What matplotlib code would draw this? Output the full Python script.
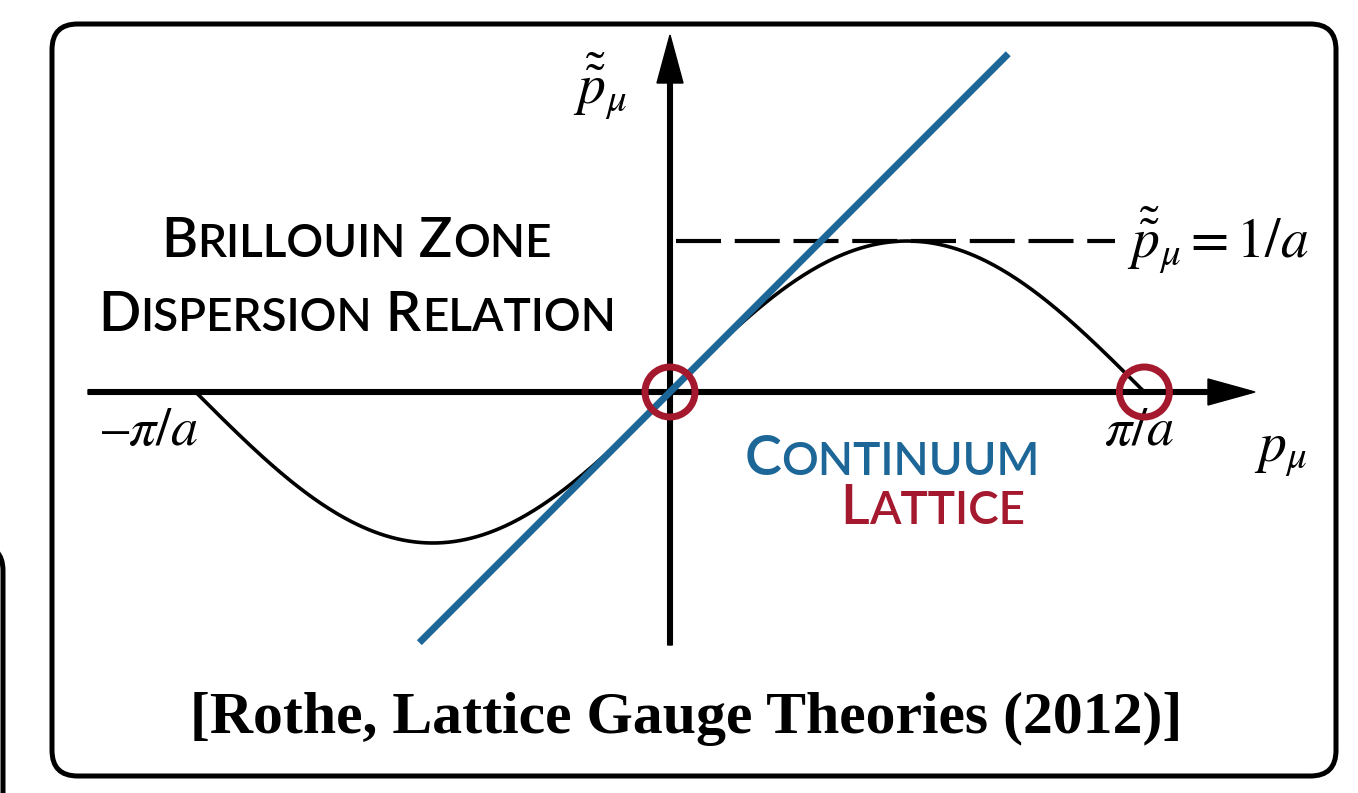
import numpy as np
import matplotlib
matplotlib.use("Agg")
from matplotlib import pyplot as plt
from matplotlib.patches import FancyBboxPatch, Circle
from matplotlib.offsetbox import TextArea, HPacker, AnnotationBbox

plt.rcParams['mathtext.fontset'] = 'stix'

# lattice spacing and the first Brillouin zone
a = 1.0
zone_edge = np.pi / a
p = np.linspace(-zone_edge, zone_edge, 500)
lattice = np.sin(p * a) / a          # lattice momentum
continuum_p = np.array([-1.66, 2.24])
continuum = continuum_p                # continuum momentum, p~ = p
doublers = [0.0, zone_edge]            # zeros of the lattice dispersion
tilde_max = 1.0 / a

BLUE = '#1c6798'
RED = '#a5192e'

# pixel layout -> data units (origin of the axes, px per unit)
W, H = 1358, 793
ox, oy, s = 670, 392, 151.0

fig = plt.figure(figsize=(W / 100, H / 100), dpi=100)
ax = fig.add_axes([0, 0, 1, 1])
ax.set_xlim(-ox / s, (W - ox) / s)
ax.set_ylim((oy - H) / s, oy / s)
ax.axis('off')


def px(x, y):
    return ((x - ox) / s, (oy - y) / s)


# frames
x0, y0 = px(52, 776)
x1, y1 = px(1336, 24)
ax.add_patch(FancyBboxPatch((x0 + 0.17, y0 + 0.17), x1 - x0 - 0.34, y1 - y0 - 0.34,
                            boxstyle='round,pad=0.17', fill=False, lw=3.6, ec='k'))
x0, y0 = px(-300, 820)
x1, y1 = px(3, 545)
ax.add_patch(FancyBboxPatch((x0 + 0.17, y0 + 0.17), x1 - x0 - 0.34, y1 - y0 - 0.34,
                            boxstyle='round,pad=0.17', fill=False, lw=3.6, ec='k',
                            clip_on=True))

# axes with arrows
lw_ax = 4.7 / s
hx0, _ = px(88, 0)
hx1, _ = px(1255, 0)
ax.arrow(hx0, 0, hx1 - hx0, 0, width=lw_ax, head_width=26 / s, head_length=47 / s,
         length_includes_head=True, color='k', zorder=2)
_, vy0 = px(0, 645)
_, vy1 = px(0, 35)
ax.arrow(0, vy0, 0, vy1 - vy0, width=lw_ax, head_width=26 / s, head_length=48 / s,
         length_includes_head=True, color='k', zorder=2)

# dashed maximum of the lattice momentum
dx0, _ = px(676, 0)
dx1, _ = px(1115, 0)
ax.plot([dx0, dx1], [tilde_max, tilde_max], color='k', lw=3,
        dashes=(10.8, 3.3), zorder=2)

# dispersion curves
ax.plot(p, lattice, color='k', lw=2.6, zorder=3)
ax.plot(continuum_p, continuum, color=BLUE, lw=5, solid_capstyle='butt', zorder=4)

for d in doublers:
    ax.add_patch(Circle((d, 0), 25 / s, fill=False, ec=RED, lw=5, zorder=5))

# math labels
ax.text(*px(600, 86), r'$\tilde{\tilde{p}}_\mu$', fontsize=40, ha='center', va='center')
ax.text(*px(1280, 452), r'$p_\mu$', fontsize=40, ha='center', va='center')
ax.text(*px(1139, 430), r'$\pi/a$', fontsize=39, ha='center', va='center')
ax.text(*px(150, 430), r'$\endash\pi/a$', fontsize=39, ha='center', va='center')
ax.text(*px(1127, 240), r'$\tilde{\tilde{p}}_\mu = 1/a$', fontsize=40, ha='left',
        va='center')


def smallcaps(txt, big, small, color):
    runs = []
    for ch in txt:
        sz = small if ch.islower() else big
        if runs and runs[-1][1] == sz:
            runs[-1][0] += ch.upper()
        else:
            runs.append([ch.upper(), sz])
    boxes = [TextArea(t, textprops=dict(fontsize=sz, color=color, family='Lato',
                                        weight='semibold'))
             for t, sz in runs]
    return HPacker(children=boxes, align='baseline', pad=0, sep=0)


def place(box, xy):
    ab = AnnotationBbox(box, xy, xycoords='data', box_alignment=(0.5, 0.5),
                        frameon=False, pad=0)
    ax.add_artist(ab)


place(smallcaps('Brillouin Zone', 40, 33, 'k'), px(356, 241))
place(smallcaps('Dispersion Relation', 40, 33, 'k'), px(357, 315))
place(smallcaps('Continuum', 40, 33, BLUE), px(892, 459))
place(smallcaps('Lattice', 40, 33, RED), px(933, 508))

ax.text(*px(686, 733), '[Rothe, Lattice Gauge Theories (2012)]', fontsize=43,
        family='Liberation Serif', weight='bold', ha='center', va='baseline')

fig.savefig('out.png', dpi=100)
